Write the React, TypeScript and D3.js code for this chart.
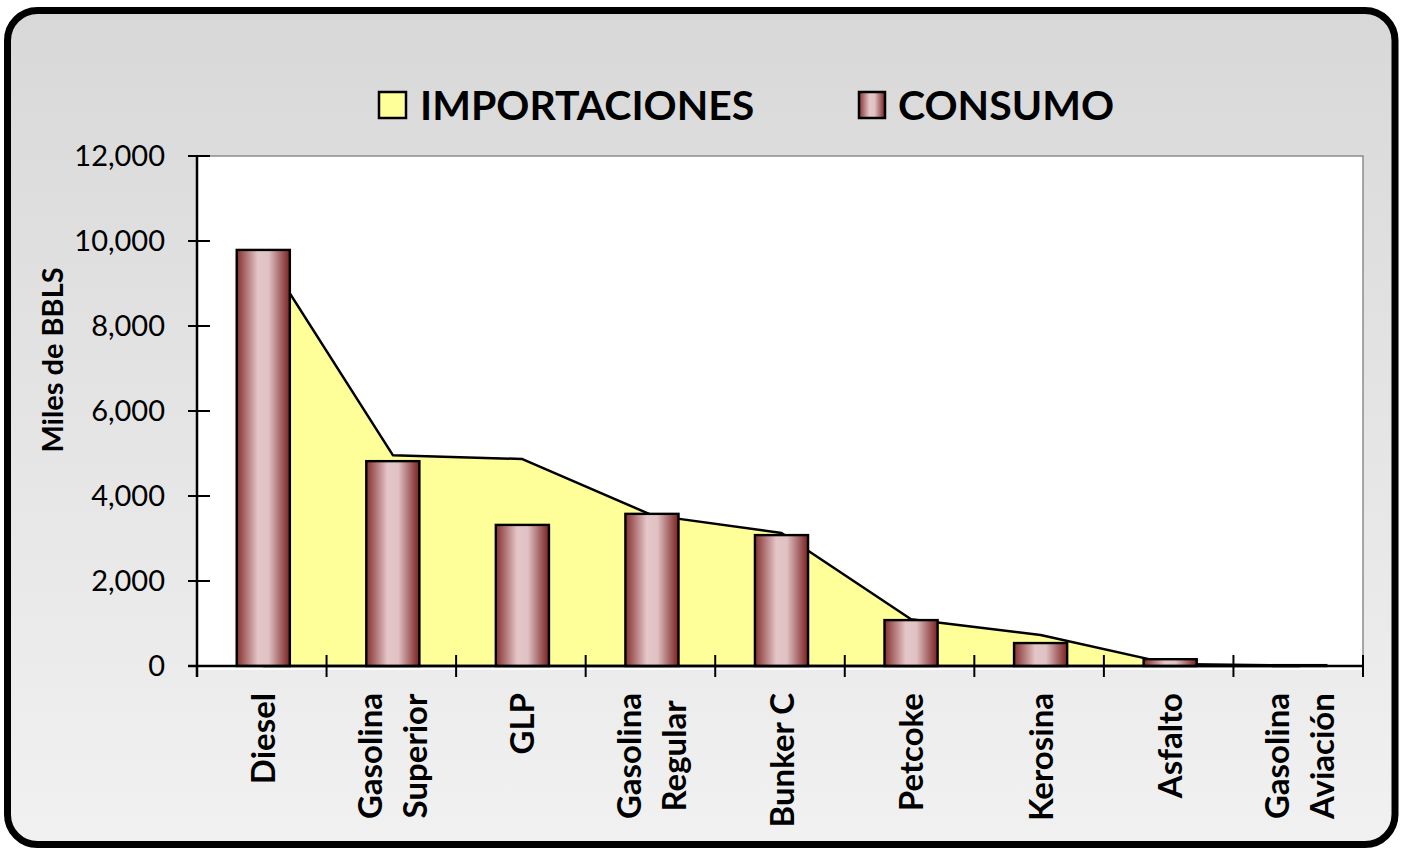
import React, {useEffect, useRef} from 'react';
import {select, scaleBand, scaleLinear, area, format} from 'd3';

// categorias y valores (miles de BBLS)
const categories = ['Diesel', 'Gasolina\nSuperior', 'GLP', 'Gasolina\nRegular', 'Bunker C', 'Petcoke', 'Kerosina', 'Asfalto', 'Gasolina\nAviación'];
const importaciones = [9750, 4960, 4870, 3550, 3130, 1100, 730, 50, 10];
const consumo = [9790, 4820, 3320, 3580, 3080, 1080, 540, 160, 20];
const yTicks = [0, 2000, 4000, 6000, 8000, 10000, 12000];
const seriesNames = ['IMPORTACIONES', 'CONSUMO'];
const yTitle = 'Miles de BBLS';

const W = 1407;
const H = 848;
const plot = {left: 197, right: 1363, top: 156, bottom: 666};
const FONT = 'Lato, "Open Sans", sans-serif';

const App = (): JSX.Element => {
    const svgRef = useRef<SVGSVGElement>(null);

    useEffect(() => {
        const svg = select(svgRef.current);
        svg.selectAll('*').remove();

        const x = scaleBand<string>().domain(categories).range([plot.left, plot.right]).padding(0);
        const y = scaleLinear().domain([0, 12000]).range([plot.bottom, plot.top]);
        const cx = (c: string) => (x(c) as number) + x.bandwidth() / 2 + 1.5;
        const barW = x.bandwidth() * 0.41;

        const defs = svg.append('defs');
        const bg = defs.append('linearGradient').attr('id', 'bg')
            .attr('x1', 0).attr('y1', 0).attr('x2', 0).attr('y2', 1);
        bg.append('stop').attr('offset', '0%').attr('stop-color', '#d8d8d8');
        bg.append('stop').attr('offset', '100%').attr('stop-color', '#f1f1f1');

        const barGrad = defs.append('linearGradient').attr('id', 'barGrad')
            .attr('x1', 0).attr('y1', 0).attr('x2', 1).attr('y2', 0);
        [['0%', '#86302f'], ['15%', '#a86868'], ['40%', '#e4c6c9'], ['60%', '#e0c2c5'], ['85%', '#a05c5d'], ['100%', '#7a2222']]
            .forEach(([o, c]) => barGrad.append('stop').attr('offset', o).attr('stop-color', c));

        // marco redondeado
        svg.append('rect')
            .attr('x', 7.5).attr('y', 10.5).attr('width', 1387.5).attr('height', 834)
            .attr('rx', 30).attr('ry', 30)
            .attr('fill', 'url(#bg)').attr('stroke', '#000').attr('stroke-width', 7);

        // area de trazado
        svg.append('rect')
            .attr('x', plot.left).attr('y', plot.top)
            .attr('width', plot.right - plot.left).attr('height', plot.bottom - plot.top + 4)
            .attr('fill', '#fff');
        svg.append('path')
            .attr('d', `M${plot.left},${plot.top}H${plot.right}V${plot.bottom}`)
            .attr('fill', 'none').attr('stroke', '#8c8c8c').attr('stroke-width', 1.5);

        // leyenda
        const legend = svg.append('g').attr('font-family', FONT).attr('font-weight', 700).attr('font-size', 41);
        legend.append('rect').attr('x', 379).attr('y', 92).attr('width', 27).attr('height', 26)
            .attr('fill', '#ffff99').attr('stroke', '#000').attr('stroke-width', 2.5);
        legend.append('text').attr('x', 420).attr('y', 120).text(seriesNames[0]);
        legend.append('rect').attr('x', 859).attr('y', 92).attr('width', 26).attr('height', 26)
            .attr('fill', 'url(#barGrad)').attr('stroke', '#000').attr('stroke-width', 2.5);
        legend.append('text').attr('x', 898).attr('y', 120).text(seriesNames[1]);

        // importaciones (area)
        const imp = area<number>()
            .x((d, i) => cx(categories[i]))
            .y0(y(0))
            .y1((d) => y(d));
        svg.append('path')
            .datum(importaciones)
            .attr('d', imp as any)
            .attr('fill', '#ffff99')
            .attr('stroke', '#000').attr('stroke-width', 2.5).attr('stroke-linejoin', 'round');

        // consumo (barras)
        svg.selectAll('.bar')
            .data(consumo)
            .join('rect')
            .attr('class', 'bar')
            .attr('x', (d, i) => cx(categories[i]) - barW / 2)
            .attr('y', (d) => y(d))
            .attr('width', barW)
            .attr('height', (d) => y(0) - y(d))
            .attr('fill', 'url(#barGrad)')
            .attr('stroke', '#000').attr('stroke-width', 2.4);

        // eje y
        svg.append('line')
            .attr('x1', plot.left).attr('x2', plot.left)
            .attr('y1', plot.top).attr('y2', plot.bottom + 11)
            .attr('stroke', '#000').attr('stroke-width', 2.5);
        const yt = svg.append('g').selectAll('g').data(yTicks).join('g')
            .attr('transform', (d) => `translate(0,${y(d)})`);
        yt.append('line').attr('x1', plot.left - 9).attr('x2', plot.left + 13)
            .attr('stroke', '#000').attr('stroke-width', 2);
        yt.append('text')
            .attr('x', 165).attr('dy', '0.36em')
            .attr('text-anchor', 'end')
            .attr('font-family', FONT).attr('font-size', 29).attr('fill', '#000')
            .text((d) => format(',')(d));

        svg.append('text')
            .attr('transform', 'translate(63,360) rotate(-90)')
            .attr('text-anchor', 'middle')
            .attr('font-family', FONT).attr('font-weight', 700).attr('font-size', 29)
            .text(yTitle);

        // eje x
        svg.append('line')
            .attr('x1', plot.left - 9).attr('x2', plot.right)
            .attr('y1', plot.bottom).attr('y2', plot.bottom)
            .attr('stroke', '#000').attr('stroke-width', 2.5);
        const bounds = categories.map((c) => x(c) as number).concat([plot.right]);
        svg.append('g').selectAll('line').data(bounds).join('line')
            .attr('x1', (d) => d).attr('x2', (d) => d)
            .attr('y1', plot.bottom - 11).attr('y2', plot.bottom + 11)
            .attr('stroke', '#000').attr('stroke-width', 2);

        const labels = svg.append('g')
            .attr('font-family', FONT).attr('font-weight', 700).attr('font-size', 33);
        categories.forEach((c) => {
            const lines = c.split('\n');
            const g = labels.append('g');
            const gap = 45;
            const texts = lines.map((ln, j) => g.append('text')
                .attr('text-anchor', 'middle')
                .attr('y', (j - (lines.length - 1) / 2) * gap + 12)
                .text(ln));
            const maxLen = Math.max(...texts.map((t) => (t.node() as SVGTextElement).getComputedTextLength()));
            g.attr('transform', `translate(${cx(c)},${693 + maxLen / 2}) rotate(-90)`);
        });
    }, []);

    return (
        <svg
            ref={svgRef}
            xmlns="http://www.w3.org/2000/svg"
            width={W}
            height={H}
            viewBox={`0 0 ${W} ${H}`}
            style={{position: 'absolute', left: 0, top: 0}}
        />
    );
};

export default App;
